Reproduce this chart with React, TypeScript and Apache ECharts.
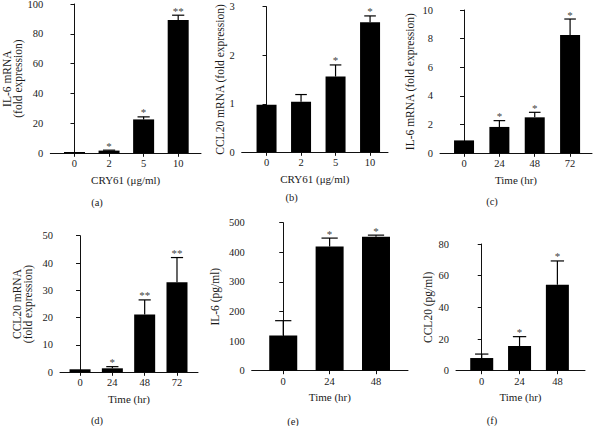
import React, { useEffect, useRef } from "react";
import * as echarts from "echarts";

// ---------- data ----------
const catsA = ["0", "2", "5", "10"];
const valsA = [0.8, 1.8, 22.7, 89.2];
const topsA = [0.8, 2.1, 24.4, 92.5];
const starsA = ["", "*", "*", "**"];

const catsB = ["0", "2", "5", "10"];
const valsB = [0.98, 1.04, 1.56, 2.68];
const topsB = [0.98, 1.19, 1.8, 2.81];
const starsB = ["", "", "*", "*"];

const catsC = ["0", "24", "48", "72"];
const valsC = [0.9, 1.84, 2.51, 8.26];
const topsC = [0.9, 2.28, 2.86, 9.37];
const starsC = ["", "*", "*", "*"];

const catsD = ["0", "24", "48", "72"];
const valsD = [1.1, 1.46, 21.2, 33.0];
const topsD = [1.1, 2.07, 26.5, 42.0];
const starsD = ["", "*", "**", "**"];

const catsE = ["0", "24", "48"];
const valsE = [119, 420, 452.7];
const topsE = [169, 448, 458];
const starsE = ["", "*", "*"];

const catsF = ["0", "24", "48"];
const valsF = [8.0, 15.6, 54.3];
const topsF = [10.5, 21.5, 69.3];
const starsF = ["", "*", "*"];

const yNames = [
  "IL-6 mRNA\n(fold expression)",
  "CCL20 mRNA (fold expression)",
  "IL-6 mRNA (fold expression)",
  "CCL20 mRNA\n(fold expression)",
  "IL-6 (pg/ml)",
  "CCL20 (pg/ml)",
];
const xNames = ["CRY61 (μg/ml)", "CRY61 (μg/ml)", "Time (hr)", "Time (hr)", "Time (hr)", "Time (hr)"];
const panelLabels = ["(a)", "(b)", "(c)", "(d)", "(e)", "(f)"];
const yMaxes = [100, 3, 10, 50, 500, 80];
const yIntervals = [20, 1, 2, 10, 100, 20];

// ---------- layout ----------
const FONT = '"Liberation Serif", "Times New Roman", serif';
const TXT = "#1a1a1a";

const layouts = [
  { left: 50.3, top: 4, width: 150.7, height: 149.3, xmin: -0.7, xmax: 3.66, bar: 21, gap: 25.5, lx: 97, ly: 202 },
  { left: 241.7, top: 6.7, width: 146.3, height: 145.6, xmin: -0.72, xmax: 3.52, bar: 20, gap: 15, lx: 291.7, ly: 197 },
  { left: 440, top: 10, width: 152, height: 143.3, xmin: -0.68, xmax: 3.62, bar: 20, gap: 25, lx: 492, ly: 201 },
  { left: 60, top: 235.7, width: 138, height: 136.6, xmin: -0.62, xmax: 3.65, bar: 21, gap: 27, lx: 97, ly: 420 },
  { left: 251.7, top: 222.7, width: 156.3, height: 148, xmin: -0.68, xmax: 2.69, bar: 28, gap: 31, lx: 293, ly: 421 },
  { left: 456, top: 244, width: 129, height: 126.7, xmin: -0.68, xmax: 2.73, bar: 23, gap: 22.5, lx: 492, ly: 420 },
];

const panels = [
  { cats: catsA, vals: valsA, tops: topsA, stars: starsA },
  { cats: catsB, vals: valsB, tops: topsB, stars: starsB },
  { cats: catsC, vals: valsC, tops: topsC, stars: starsC },
  { cats: catsD, vals: valsD, tops: topsD, stars: starsD },
  { cats: catsE, vals: valsE, tops: topsE, stars: starsE },
  { cats: catsF, vals: valsF, tops: topsF, stars: starsF },
];

function buildOption() {
  const grid: any[] = [];
  const xAxis: any[] = [];
  const yAxis: any[] = [];
  const series: any[] = [];
  const graphic: any[] = [];

  panels.forEach((p, i) => {
    const L = layouts[i];
    grid.push({
      left: L.left,
      top: L.top,
      width: L.width,
      height: L.height,
      containLabel: false,
      outerBoundsMode: "none",
    });
    const idx = p.cats.map((_, k) => k);
    xAxis.push({
      type: "value",
      gridIndex: i,
      min: L.xmin,
      max: L.xmax,
      name: xNames[i],
      nameLocation: "middle",
      nameGap: 21,
      nameTextStyle: { fontFamily: FONT, fontSize: 11, fontWeight: "normal", color: TXT },
      axisLine: { show: true, onZero: false, lineStyle: { color: "#111", width: 1 } },
      axisTick: { show: true, length: 3.5, customValues: idx, lineStyle: { color: "#111", width: 1 } },
      axisLabel: {
        show: true,
        customValues: idx,
        margin: 5,
        fontFamily: FONT,
        fontSize: 10.5,
        fontWeight: "normal",
        color: TXT,
        formatter: (v: number) => p.cats[Math.round(v)] ?? "",
      },
      splitLine: { show: false },
    });
    yAxis.push({
      type: "value",
      gridIndex: i,
      min: 0,
      max: yMaxes[i],
      interval: yIntervals[i],
      name: yNames[i],
      nameLocation: "middle",
      nameGap: L.gap,
      nameRotate: 90,
      nameTextStyle: { fontFamily: FONT, fontSize: 11.5, fontWeight: "normal", color: TXT, lineHeight: 10.5 },
      axisLine: { show: true, lineStyle: { color: "#111", width: 1 } },
      axisTick: { show: true, length: 4, lineStyle: { color: "#111", width: 1 } },
      axisLabel: { show: true, margin: 7, fontFamily: FONT, fontSize: 10.5, fontWeight: "normal", color: TXT },
      splitLine: { show: false },
    });
    series.push({
      type: "bar",
      xAxisIndex: i,
      yAxisIndex: i,
      barWidth: L.bar,
      itemStyle: { color: "#000" },
      data: p.vals.map((v, k) => [k, v]),
      silent: true,
    });
    const capHalf = L.bar * 0.29;
    series.push({
      type: "custom",
      xAxisIndex: i,
      yAxisIndex: i,
      silent: true,
      encode: { x: 0, y: [1, 2] },
      data: p.vals.map((v, k) => [k, v, p.tops[k]]),
      renderItem: (params: any, api: any) => {
        const x = api.value(0);
        const lo = api.value(1);
        const hi = api.value(2);
        const pLo = api.coord([x, lo]);
        const pHi = api.coord([x, hi]);
        const children: any[] = [];
        if (hi > lo) {
          children.push({
            type: "line",
            shape: { x1: pLo[0], y1: pLo[1], x2: pHi[0], y2: pHi[1] },
            style: { stroke: "#000", lineWidth: 1.2 },
          });
          children.push({
            type: "line",
            shape: { x1: pHi[0] - capHalf, y1: pHi[1], x2: pHi[0] + capHalf, y2: pHi[1] },
            style: { stroke: "#000", lineWidth: 1.2 },
          });
        }
        const s = p.stars[params.dataIndex];
        if (s) {
          children.push({
            type: "text",
            x: pHi[0],
            y: pHi[1] + 1,
            style: {
              text: s,
              fill: "#444",
              font: `11px ${FONT}`,
              align: "center",
              verticalAlign: "bottom",
            },
          });
        }
        return { type: "group", children };
      },
    });
    graphic.push({
      type: "text",
      x: L.lx,
      y: L.ly,
      style: {
        text: panelLabels[i],
        fill: TXT,
        font: `10.5px ${FONT}`,
        align: "center",
        verticalAlign: "middle",
      },
    });
  });

  return {
    animation: false,
    backgroundColor: "#ffffff",
    grid,
    xAxis,
    yAxis,
    series,
    graphic,
  };
}

export default function App() {
  const ref = useRef<HTMLDivElement>(null);
  useEffect(() => {
    document.body.style.margin = "0";
    if (!ref.current) return;
    const chart = echarts.init(ref.current, undefined, { renderer: "svg" });
    chart.setOption(buildOption() as any);
    return () => chart.dispose();
  }, []);
  return (
    <div
      ref={ref}
      style={{ position: "absolute", left: 0, top: 0, width: 595, height: 426, background: "#fff" }}
    />
  );
}
